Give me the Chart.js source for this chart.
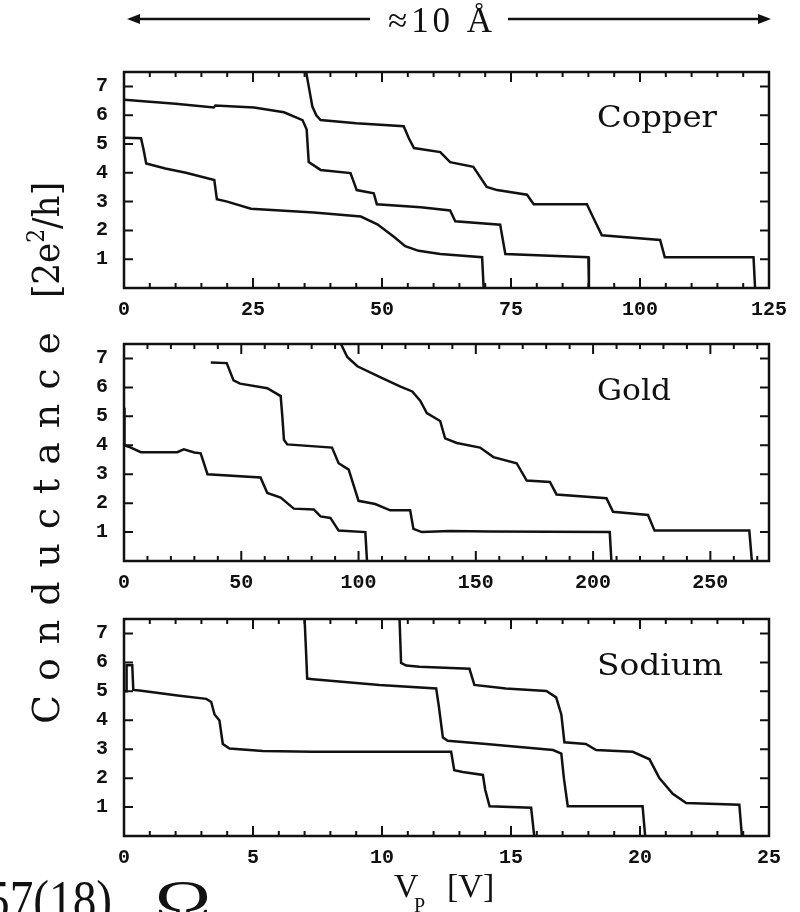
<!DOCTYPE html>
<html>
<head>
<meta charset="utf-8">
<script src="https://cdn.jsdelivr.net/npm/chart.js@4.4.1/dist/chart.umd.min.js"></script>
<style>
  html, body { margin: 0; padding: 0; background: #fff; }
  #page { position: relative; width: 800px; height: 912px; overflow: hidden; background: #fff; }
  #page canvas { position: absolute; left: 0; }
  #overlay { position: absolute; left: 0; top: 0; pointer-events: none; }
</style>
</head>
<body>
<div id="page">
  <canvas id="copperChart" width="800" height="284" style="top:44px"></canvas>
  <canvas id="goldChart" width="800" height="285" style="top:316px"></canvas>
  <canvas id="sodiumChart" width="800" height="285" style="top:591px"></canvas>

  <svg id="overlay" width="800" height="912" xmlns="http://www.w3.org/2000/svg">
    <!-- length bar at the top -->
    <g stroke="#111" stroke-width="2.4" fill="#111">
      <line x1="136" y1="19" x2="370" y2="19"/>
      <line x1="508" y1="19" x2="762" y2="19"/>
      <polygon points="127,19 140,14 140,24" stroke="none"/>
      <polygon points="771,19 758,14 758,24" stroke="none"/>
    </g>
    <text x="440" y="32" text-anchor="middle" font-family="'Liberation Serif', serif" font-size="35" fill="#111" textLength="104" lengthAdjust="spacing">≈10 Å</text>

    <!-- panel names -->
    <g font-family="'DejaVu Serif', serif" font-size="29" fill="#111">
      <text x="597" y="127" textLength="120" lengthAdjust="spacingAndGlyphs">Copper</text>
      <text x="597" y="400" textLength="74" lengthAdjust="spacingAndGlyphs">Gold</text>
      <text x="597" y="675" textLength="126" lengthAdjust="spacingAndGlyphs">Sodium</text>
    </g>

    <!-- y title -->
    <g font-family="'DejaVu Serif', serif" font-size="38" fill="#111">
      <text transform="translate(59,724) rotate(-90)" textLength="392" lengthAdjust="spacing">Conductance</text>
      <text transform="translate(59,298) rotate(-90)" textLength="116" lengthAdjust="spacingAndGlyphs">[2e<tspan font-size="24" dy="-15">2</tspan><tspan dy="15">/h]</tspan></text>
    </g>

    <!-- x title -->
    <g font-family="'Liberation Serif', serif" fill="#111">
      <text x="394" y="897" font-size="34">V</text>
      <text x="414" y="912" font-size="20">P</text>
      <text x="447" y="897" font-size="34">[V]</text>
    </g>

    <!-- stray caption cut at the bottom edge -->
    <g font-family="'Liberation Serif', serif" font-size="54" fill="#111">
      <text x="-14" y="918" textLength="126" lengthAdjust="spacingAndGlyphs">57(18)</text>
      <text x="155" y="918" textLength="56" lengthAdjust="spacingAndGlyphs">Ω</text>
    </g>
  </svg>
</div>

<script>
// tick labels
const yTicks = [1, 2, 3, 4, 5, 6, 7];
const copperTicks = [0, 25, 50, 75, 100, 125];
const goldTicks = [0, 50, 100, 150, 200, 250];
const sodiumTicks = [0, 5, 10, 15, 20, 25];

// Copper: Vp [V] and conductance [2e^2/h]
const copperV1 = [0, 3.3, 3.8, 4.3, 8, 12, 17.5, 18, 20, 24.6, 36.8, 45.9, 49.1, 52.3, 54.5, 57.1, 61.3, 69.4, 69.7];
const copperG1 = [5.22, 5.2, 4.8, 4.32, 4.15, 4.0, 3.75, 3.08, 3.0, 2.75, 2.62, 2.48, 2.21, 1.78, 1.45, 1.29, 1.18, 1.07, 0];
const copperV2 = [0, 10, 17.4, 17.7, 25.2, 31, 34.6, 35.4, 35.8, 38.1, 43.9, 45.1, 48.4, 49.0, 57.5, 63.2, 64.2, 72.9, 73.9, 90, 90.1];
const copperG2 = [6.54, 6.4, 6.27, 6.34, 6.27, 6.1, 5.83, 5.5, 4.37, 4.1, 3.99, 3.4, 3.29, 2.91, 2.8, 2.69, 2.32, 2.2, 1.18, 1.07, 0];
const copperV3 = [35.3, 35.8, 36.5, 37.3, 38.1, 45, 54.2, 55.2, 56.2, 61.3, 63.2, 67.7, 70.3, 72.3, 78.1, 79.4, 89.7, 91, 92.6, 103.9, 104.8, 122, 122.3];
const copperG3 = [7.5, 7.0, 6.3, 5.99, 5.83, 5.72, 5.62, 5.2, 4.86, 4.72, 4.37, 4.21, 3.51, 3.4, 3.24, 2.91, 2.91, 2.42, 1.83, 1.67, 1.07, 1.07, 0];

// Gold
const goldV1 = [0.2, 0.2, 2, 7.2, 22.7, 25.5, 30, 32.7, 35.6, 58.2, 61.1, 66.8, 72.4, 80.9, 83.8, 88, 91.5, 102.9, 103.6];
const goldG1 = [5.3, 4.0, 3.95, 3.76, 3.76, 3.86, 3.75, 3.72, 3.0, 2.89, 2.35, 2.19, 1.81, 1.78, 1.54, 1.49, 1.05, 1.0, 0];
const goldV2 = [37, 43.8, 46.7, 49.5, 61.1, 66.8, 67.5, 68.2, 69.6, 88.7, 91.5, 95.8, 100, 107.1, 113.5, 122, 123.4, 127, 139, 156, 207.1, 207.8];
const goldG2 = [6.86, 6.84, 6.24, 6.13, 5.97, 5.7, 5.0, 4.19, 4.03, 3.92, 3.38, 3.16, 2.08, 1.97, 1.75, 1.75, 1.11, 1.0, 1.04, 1.02, 1.0, 0];
const goldV3 = [92.5, 95.2, 99.5, 109.4, 117.9, 122.9, 126.3, 129.1, 134.8, 136.9, 141.9, 151.8, 157.5, 167.4, 171.7, 181.6, 184.4, 205.7, 208.5, 223.4, 226.2, 266.6, 267.7];
const goldG3 = [7.5, 7.05, 6.73, 6.35, 6.03, 5.86, 5.54, 5.11, 4.84, 4.24, 4.08, 3.92, 3.59, 3.38, 2.78, 2.73, 2.3, 2.17, 1.7, 1.59, 1.05, 1.05, 0];

// Sodium
const sodiumV1 = [0, 0.1, 0.1, 0.32, 0.36, 0.6, 2.15, 3.19, 3.38, 3.51, 3.7, 3.83, 4.09, 5.38, 7.32, 12.68, 12.8, 13.13, 13.91, 14.0, 14.17, 15.78, 15.9];
const sodiumG1 = [5.0, 5.0, 5.9, 5.9, 5.05, 5.03, 4.85, 4.74, 4.63, 4.2, 3.99, 3.18, 3.02, 2.94, 2.91, 2.91, 2.27, 2.21, 2.11, 1.6, 1.03, 0.98, 0];
const sodiumV2 = [7.0, 7.05, 7.1, 7.32, 9.9, 12.1, 12.2, 12.36, 12.55, 14.04, 16.63, 16.95, 17.05, 17.2, 20.1, 20.2];
const sodiumG2 = [7.5, 6.5, 5.44, 5.42, 5.22, 5.1, 4.5, 3.4, 3.29, 3.18, 2.97, 2.85, 2.0, 1.03, 1.03, 0];
const sodiumV3 = [10.68, 10.74, 10.94, 11.45, 13.39, 13.58, 14.8, 16.37, 16.75, 16.95, 17.07, 17.9, 18.3, 19.72, 20.37, 20.75, 21.27, 21.79, 23.85, 23.95];
const sodiumG3 = [7.5, 5.98, 5.89, 5.85, 5.78, 5.22, 5.1, 5.01, 4.79, 4.2, 3.24, 3.18, 2.97, 2.91, 2.65, 2.0, 1.46, 1.14, 1.08, 0];

const ink = '#111';
const tickFont = { family: "'Liberation Mono', 'Courier New', monospace", size: 20, weight: 'bold' };

function toPoints(xs, ys) {
    return xs.map((x, i) => ({ x: x, y: ys[i] }));
}

// box around the plot with the tick marks pointing inwards
const frame = {
    id: 'frame',
    afterDraw(chart, args, opts) {
        const ctx = chart.ctx;
        const a = chart.chartArea;
        const x = chart.scales.x;
        const y = chart.scales.y;
        ctx.save();
        ctx.strokeStyle = ink;
        ctx.lineWidth = 2;
        ctx.beginPath();
        for (let v = x.min; v <= x.max + 1e-9; v += opts.minor) {
            const px = x.getPixelForValue(v);
            const major = x.ticks.some(t => Math.abs(t.value - v) < 1e-6);
            const len = major ? 10 : 5;
            ctx.moveTo(px, a.bottom);
            ctx.lineTo(px, a.bottom - len);
            ctx.moveTo(px, a.top);
            ctx.lineTo(px, a.top + len);
        }
        y.ticks.forEach(t => {
            const py = y.getPixelForValue(t.value);
            ctx.moveTo(a.left, py);
            ctx.lineTo(a.left + 9, py);
            ctx.moveTo(a.right, py);
            ctx.lineTo(a.right - 9, py);
        });
        ctx.stroke();
        ctx.lineWidth = 2.5;
        ctx.strokeRect(a.left, a.top, a.right - a.left, a.bottom - a.top);
        ctx.restore();
    }
};

function makePanel(id, xMax, xTicks, minorStep, curves) {
    let ctx = document.getElementById(id).getContext('2d');
    return new Chart(ctx, {
        type: 'line',
        data: {
            datasets: curves.map(c => ({
                data: toPoints(c[0], c[1]),
                borderColor: ink,
                borderWidth: 2.5,
                pointRadius: 0,
                fill: false,
                tension: 0
            }))
        },
        options: {
            responsive: false,
            animation: false,
            layout: { padding: { top: 12, left: 64, right: 31, bottom: 6 } },
            plugins: {
                legend: { display: false },
                tooltip: { enabled: false },
                frame: { minor: minorStep }
            },
            scales: {
                x: {
                    type: 'linear',
                    min: 0,
                    max: xMax,
                    afterBuildTicks: s => { s.ticks = xTicks.map(v => ({ value: v })); },
                    afterFit: s => { s.height = 34; },
                    grid: { display: false, drawTicks: false },
                    border: { display: false },
                    ticks: { font: tickFont, color: ink, padding: 10, maxRotation: 0, autoSkip: false }
                },
                y: {
                    min: 0,
                    max: 7.5,
                    afterBuildTicks: s => { s.ticks = yTicks.map(v => ({ value: v })); },
                    afterFit: s => { s.width = 60; },
                    grid: { display: false, drawTicks: false },
                    border: { display: false },
                    ticks: { font: tickFont, color: ink, padding: 16 }
                }
            }
        },
        plugins: [frame]
    });
}

makePanel('copperChart', 125, copperTicks, 5, [
    [copperV1, copperG1], [copperV2, copperG2], [copperV3, copperG3]
]);
makePanel('goldChart', 275, goldTicks, 10, [
    [goldV1, goldG1], [goldV2, goldG2], [goldV3, goldG3]
]);
makePanel('sodiumChart', 25, sodiumTicks, 1, [
    [sodiumV1, sodiumG1], [sodiumV2, sodiumG2], [sodiumV3, sodiumG3]
]);
</script>
</body>
</html>
